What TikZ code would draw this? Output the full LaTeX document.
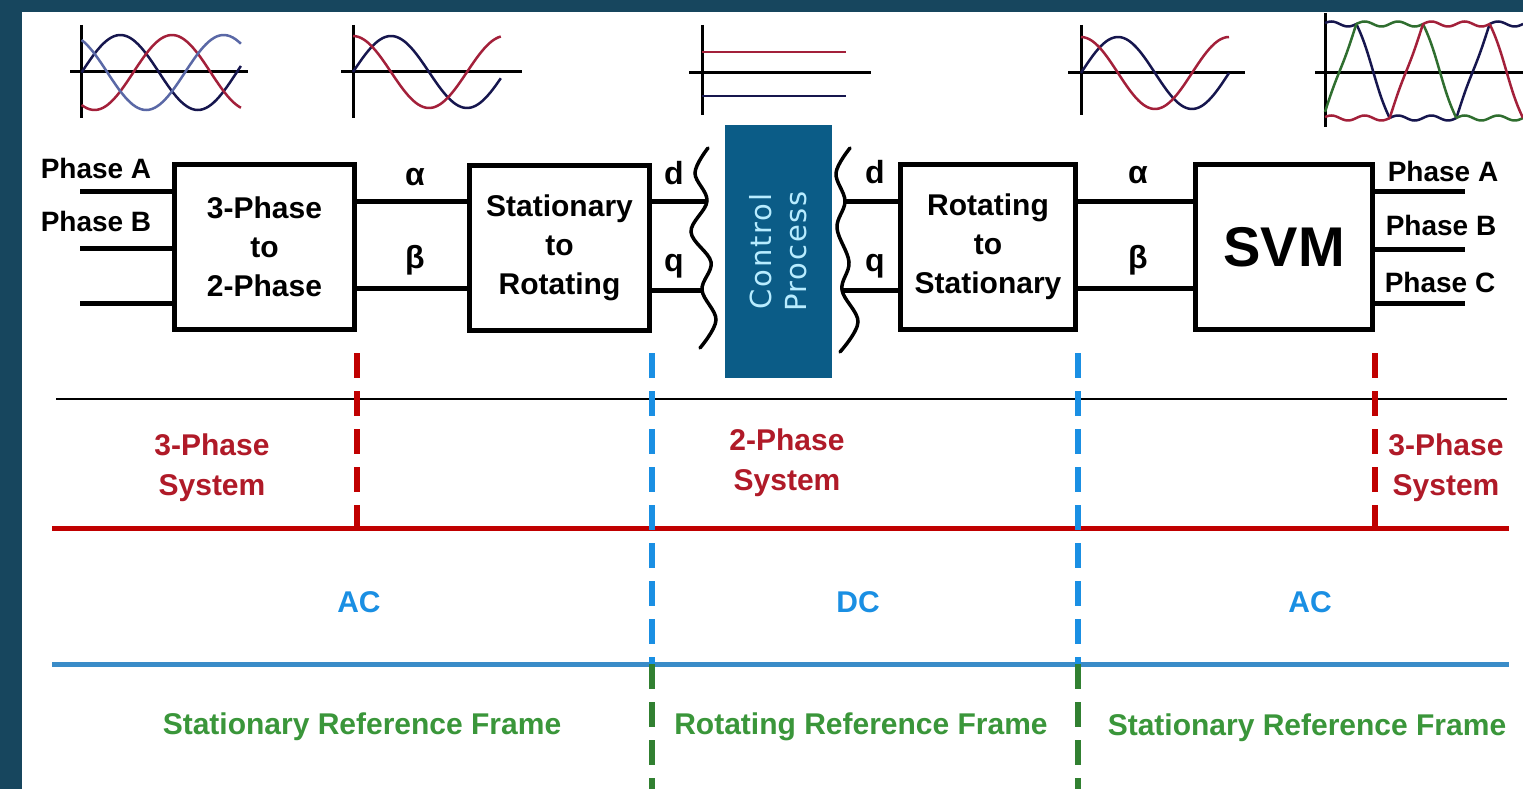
\documentclass[tikz,border=0pt]{standalone}
\usepackage{fontspec}
\setmainfont{Liberation Sans}
\newfontfamily\ctrlfont[LetterSpace=6]{DejaVu Sans}

\definecolor{framebg}{HTML}{17465E}
\definecolor{ctrlfill}{HTML}{0B5C87}
\definecolor{ctrltext}{HTML}{B8ECFF}
\definecolor{sysred}{HTML}{C00000}
\definecolor{systext}{HTML}{B01A28}
\definecolor{acline}{HTML}{3A8CC8}
\definecolor{acblue}{HTML}{1A8FE3}
\definecolor{frgreen}{HTML}{3A963A}
\definecolor{wnavy}{HTML}{16164E}
\definecolor{wred}{HTML}{A3203A}
\definecolor{wblue}{HTML}{5A68A6}
\definecolor{wgreen}{HTML}{2F6E2F}

\begin{document}
\begin{tikzpicture}[x=1pt, y=-1pt,
  block/.style={draw, line width=5pt, minimum width=180pt, minimum height=165pt,
    inner sep=0pt, align=center, font=\fontsize{30}{39}\selectfont\bfseries},
  wire/.style={line width=5pt},
  lbl/.style={font=\fontsize{28}{30}\selectfont\bfseries},
  sym/.style={font=\fontsize{32}{36}\selectfont\bfseries},
  brace/.style={line width=3.5pt, line cap=round},
  axis/.style={line width=3pt},
  wave/.style={line width=2.5pt},
  sysbox/.style={align=center, text=systext, font=\fontsize{30}{40}\selectfont\bfseries},
  curbox/.style={text=acblue, font=\fontsize{30}{36}\selectfont\bfseries},
  frbox/.style={text=frgreen, font=\fontsize{30}{36}\selectfont\bfseries},
  sep/.style={line width=6pt, dash pattern=on 25pt off 13pt}]

  \useasboundingbox (0,0) rectangle (1523,789);
  \fill[framebg] (0,0) rectangle (1523,789);
  \fill[white] (22,12) rectangle (1523,789);

  % Waveform icons along the top
  % 3-phase input
  \draw[axis] (81.6,25) -- (81.6,118);
  \draw[axis] (70,72) -- (248,72);
  \draw[wave, wnavy] plot[domain=0:370, samples=60, smooth] ({81.6+\x/360*155}, {72.5-37.5*sin(\x)});
  \draw[wave, wred]  plot[domain=0:370, samples=60, smooth] ({81.6+\x/360*155}, {72.5-37.5*sin(\x-120)});
  \draw[wave, wblue] plot[domain=0:370, samples=60, smooth] ({81.6+\x/360*155}, {72.5-37.5*sin(\x+120)});
  % alpha-beta
  \draw[axis] (353,25) -- (353,118);
  \draw[axis] (341,72) -- (522,72);
  \draw[wave, wnavy] plot[domain=0:350, samples=60, smooth] ({353+\x/360*152}, {72-36*sin(\x)});
  \draw[wave, wred]  plot[domain=0:350, samples=60, smooth] ({353+\x/360*152}, {72-36*cos(\x)});
  % d-q
  \draw[axis] (702,25) -- (702,115);
  \draw[axis] (689,73) -- (871,73);
  \draw[wave, wred]  (702,52) -- (846,52);
  \draw[wave, wnavy] (702,96) -- (846,96);
  % alpha-beta again
  \draw[axis] (1081,25) -- (1081,115);
  \draw[axis] (1068,73) -- (1245,73);
  \draw[wave, wnavy] plot[domain=0:360, samples=60, smooth] ({1081+\x/360*148}, {73-36*sin(\x)});
  \draw[wave, wred]  plot[domain=0:360, samples=60, smooth] ({1081+\x/360*148}, {73-36*cos(\x)});
  % SVM output
  \draw[axis] (1325,13) -- (1325,127);
  \draw[axis] (1315,73) -- (1523,73);
  \foreach \col/\lag in {wnavy/0, wgreen/120, wred/240}
    \draw[wave, \col] plot[domain=1325:1523, samples=160]
      (\x, {71-47*max(-1,min(1,2*sin((\x-1373)*1.8+180-\lag))) + 2.5*sin(6*((\x-1373)*1.8-\lag))});

  % Blocks
  \node[block] (tp) at (264.5,247) {3-Phase\\to\\2-Phase};
  \node[block] (sr) at (559.5,247.5) {Stationary\\to\\Rotating};
  \node[fill=ctrlfill, rotate=90, minimum width=253pt, minimum height=107pt, align=center,
    text=ctrltext, font=\ctrlfont\fontsize{29}{35}\selectfont] (cp) at (778.5,251.5) {Control\\Process};
  \node[block, minimum width=175pt] (rs) at (988,247) {Rotating\\to\\Stationary};
  \node[block, minimum width=177pt, font=\fontsize{56}{60}\selectfont\bfseries] (svm) at (1284,247) {SVM};

  % Inputs
  \node[lbl] (ia) at (96,168) {Phase A};
  \node[lbl] (ib) at (96,221) {Phase B};
  \coordinate (inA) at (80,191);
  \coordinate (inB) at (80,248);
  \coordinate (inC) at (80,303);
  \foreach \c in {inA, inB, inC}
    \draw[wire] (\c) -- (\c -| tp.west);

  % alpha / beta between the first two blocks
  \coordinate (ya) at (0,201);
  \coordinate (yb) at (0,288);
  \draw[wire] (tp.east |- ya) -- (sr.west |- ya);
  \draw[wire] (tp.east |- yb) -- (sr.west |- yb);
  \node[sym] (al1) at (415,177) {α};
  \node[sym] (be1) at (415,260) {β};

  % d / q into and out of the control process
  \node[sym] (d1) at (674,173) {d};
  \node[sym] (q1) at (674,266) {q};
  \draw[brace] plot[smooth, tension=0.6] coordinates
    {(708,148) (695,173) (707,201) (691,232) (711,262) (702,290) (716,320) (700,348)};
  \coordinate (dL) at (707,201);
  \coordinate (qL) at (702,290);
  \draw[wire] (sr.east |- dL) -- (dL);
  \draw[wire] (sr.east |- qL) -- (qL);

  \node[sym] (d2) at (875,172) {d};
  \node[sym] (q2) at (875,266) {q};
  \draw[brace] plot[smooth, tension=0.6] coordinates
    {(850,148) (836,173) (845,201) (837,228) (849,262) (842,290) (858,322) (840,352)};
  \coordinate (dR) at (845,201);
  \coordinate (qR) at (842,290);
  \draw[wire] (dR) -- (dR -| rs.west);
  \draw[wire] (qR) -- (qR -| rs.west);

  % alpha / beta into the SVM
  \draw[wire] (rs.east |- ya) -- (svm.west |- ya);
  \draw[wire] (rs.east |- yb) -- (svm.west |- yb);
  \node[sym] (al2) at (1138,175) {α};
  \node[sym] (be2) at (1138,260) {β};

  % Outputs
  \node[lbl] (oa) at (1443,171) {Phase A};
  \node[lbl] (ob) at (1441,225) {Phase B};
  \node[lbl] (oc) at (1440,282) {Phase C};
  \coordinate (outA) at (1465,191);
  \coordinate (outB) at (1465,249);
  \coordinate (outC) at (1465,303);
  \foreach \c in {outA, outB, outC}
    \draw[wire] (\c -| svm.east) -- (\c);

  % Bands underneath
  \coordinate (blkL) at (56,399);   \coordinate (blkR) at (1507,399);
  \coordinate (redL) at (52,528);   \coordinate (redR) at (1509,528);
  \coordinate (bluL) at (52,664);   \coordinate (bluR) at (1509,664);
  \coordinate (top) at (0,353);
  \coordinate (bot) at (0,789);
  \draw[line width=2.5pt] (blkL) -- (blkR);
  \draw[line width=5pt, sysred] (redL) -- (redR);
  \draw[line width=5pt, acline] (bluL) -- (bluR);

  % Dashed dividers
  \draw[sep, sysred] (tp.east |- top) -- (tp.east |- redL);
  \draw[sep, sysred] (svm.east |- top) -- (svm.east |- redL);
  \draw[sep, acblue] (sr.east |- top) -- (sr.east |- bluL);
  \draw[sep, acblue] (rs.east |- top) -- (rs.east |- bluL);
  \draw[sep, frgreen!85!black] (sr.east |- bluL) -- (sr.east |- bot);
  \draw[sep, frgreen!85!black] (rs.east |- bluL) -- (rs.east |- bot);

  % Band labels
  \node[sysbox] (s3a) at (212,468) {3-Phase\\System};
  \node[sysbox] (s2)  at (787,463) {2-Phase\\System};
  \node[sysbox] (s3b) at (1446,468) {3-Phase\\System};
  \node[curbox] (ac1) at (359,602) {AC};
  \node[curbox] (dc)  at (858,602) {DC};
  \node[curbox] (ac2) at (1310,602) {AC};
  \node[frbox] (fr1) at (362,727) {Stationary Reference Frame};
  \node[frbox] (fr2) at (861,727) {Rotating Reference Frame};
  \node[frbox] (fr3) at (1307,728) {Stationary Reference Frame};

\end{tikzpicture}
\end{document}
